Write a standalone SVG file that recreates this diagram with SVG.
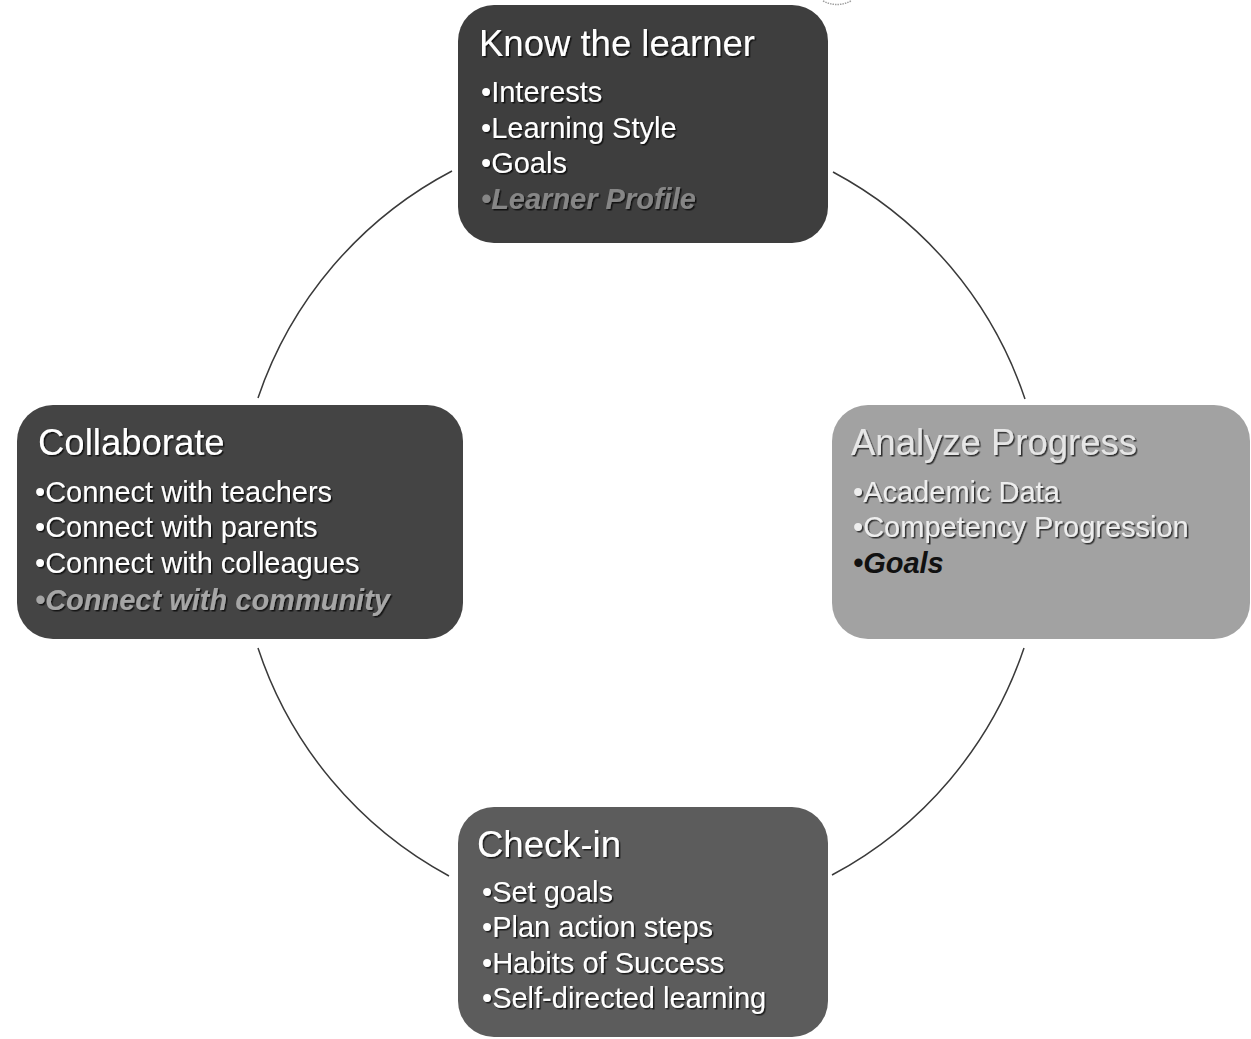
<svg xmlns="http://www.w3.org/2000/svg" width="1251" height="1039" viewBox="0 0 1251 1039">
  <style>
    .box { stroke: none; }
    .title { font-family: "Liberation Sans", Arial, sans-serif; font-size: 36.5px; fill: #ffffff; filter: url(#sh); }
    .item { font-family: "Liberation Sans", Arial, sans-serif; font-size: 29px; fill: #ffffff; filter: url(#sh); }
    .em { font-style: italic; font-weight: bold; }
    .conn { fill: none; stroke: #3a3a3a; stroke-width: 1.5; }
  </style>
  <defs>
    <filter id="sh" x="-10%" y="-30%" width="120%" height="160%">
      <feDropShadow dx="1.5" dy="1.5" stdDeviation="0.6" flood-color="#000000" flood-opacity="0.7"/>
    </filter>
  </defs>
  <rect width="1251" height="1039" fill="#ffffff"/>

  <path d="M823,1 Q837,8 851,1" fill="none" stroke="#a0a0a0" stroke-width="1.5" stroke-dasharray="1.5 1"/>

  <g id="connectors">
    <path class="conn" d="M833,172 A402,402 0 0 1 1025,399"/>
    <path class="conn" d="M1024,648 A402,402 0 0 1 832,875"/>
    <path class="conn" d="M449,876 A402,402 0 0 1 258,648"/>
    <path class="conn" d="M258,398 A402,402 0 0 1 452,171"/>
  </g>

  <g id="know-the-learner">
    <rect class="box" x="458" y="5" width="370" height="238" rx="36" fill="#3e3e3e"/>
    <text class="title" x="479" y="56">Know the learner</text>
    <text class="item" x="481" y="102">•Interests</text>
    <text class="item" x="481" y="138">•Learning Style</text>
    <text class="item" x="481" y="173">•Goals</text>
    <text class="item em" x="481" y="209" style="fill:#868686">•Learner Profile</text>
  </g>

  <g id="collaborate">
    <rect class="box" x="17" y="405" width="446" height="234" rx="36" fill="#444444"/>
    <text class="title" x="38" y="455">Collaborate</text>
    <text class="item" x="35" y="502">•Connect with teachers</text>
    <text class="item" x="35" y="537">•Connect with parents</text>
    <text class="item" x="35" y="573">•Connect with colleagues</text>
    <text class="item em" x="35" y="610" style="fill:#a6a6a6">•Connect with community</text>
  </g>

  <g id="analyze-progress">
    <rect class="box" x="832" y="405" width="418" height="234" rx="36" fill="#a2a2a2"/>
    <text class="title" x="851" y="455" style="fill:#e6e6e6">Analyze Progress</text>
    <text class="item" x="853" y="502" style="fill:#eeeeee">•Academic Data</text>
    <text class="item" x="853" y="537" style="fill:#eeeeee">•Competency Progression</text>
    <text class="item em" x="853" y="573" style="fill:#111111;filter:none">•Goals</text>
  </g>

  <g id="check-in">
    <rect class="box" x="458" y="807" width="370" height="230" rx="36" fill="#5c5c5c"/>
    <text class="title" x="477" y="857">Check-in</text>
    <text class="item" x="482" y="902">•Set goals</text>
    <text class="item" x="482" y="937">•Plan action steps</text>
    <text class="item" x="482" y="973">•Habits of Success</text>
    <text class="item" x="482" y="1008">•Self-directed learning</text>
  </g>
</svg>
